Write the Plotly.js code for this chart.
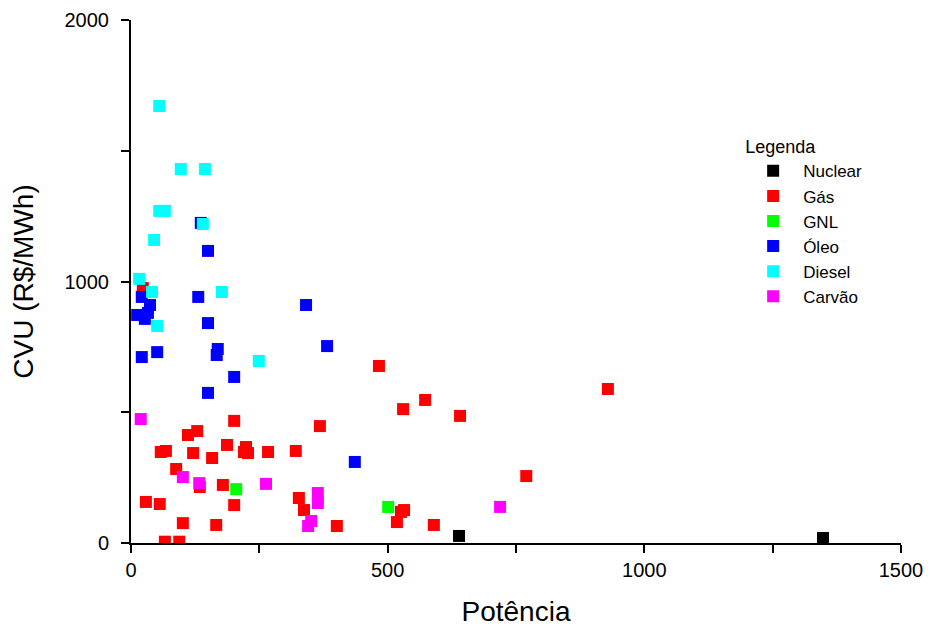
<!DOCTYPE html>
<html>
<head>
<meta charset="utf-8">
<script src="https://cdn.plot.ly/plotly-3.0.1.min.js"></script>
<style>html,body{margin:0;padding:0;background:#fff;}#chart{width:931px;height:627px;}</style>
</head>
<body>
<div id="chart"></div>
<script>
const seriesNames = ["Nuclear", "Gás", "GNL", "Óleo", "Diesel", "Carvão"];
const seriesColors = ["#000000", "#FF0000", "#00FF00", "#0000FF", "#00FFFF", "#FF00FF"];

const nuclearX = [639, 1348];
const nuclearY = [27, 19];

const gasX = [23, 201, 129, 111, 58, 68, 121, 158, 187, 224, 220, 228, 267, 88, 134, 179, 201, 29, 56, 101, 166, 66, 94, 368, 321, 327, 337, 401, 532, 526, 518, 590, 483, 573, 530, 641, 929, 770];
const gasY = [975, 467, 428, 413, 348, 352, 344, 325, 375, 367, 348, 344, 348, 283, 214, 222, 145, 157, 149, 76, 69, 5, 5, 447, 352, 172, 126, 65, 126, 119, 80, 69, 677, 547, 512, 486, 589, 256];

const gnlX = [205, 501];
const gnlY = [206, 138];

const oleoX = [136, 150, 131, 21, 37, 33, 12, 27, 150, 21, 51, 169, 167, 201, 150, 382, 341, 436];
const oleoY = [1224, 1117, 941, 941, 910, 880, 872, 857, 841, 711, 730, 742, 719, 635, 574, 753, 910, 310];

const dieselX = [55, 97, 144, 55, 66, 140, 45, 16, 41, 177, 51, 249];
const dieselY = [1671, 1430, 1430, 1270, 1270, 1220, 1159, 1010, 960, 960, 830, 696];

const carvaoX = [19, 101, 133, 263, 364, 364, 351, 345, 719];
const carvaoY = [474, 252, 229, 226, 191, 153, 84, 65, 138];

const xTickVals = [0, 500, 1000, 1500];
const yTickVals = [0, 1000, 2000];

const allX = [nuclearX, gasX, gnlX, oleoX, dieselX, carvaoX];
const allY = [nuclearY, gasY, gnlY, oleoY, dieselY, carvaoY];

const traces = seriesNames.map((name, i) => ({
  type: "scatter",
  mode: "markers",
  name: name,
  legendgroup: "g" + i,
  x: allX[i],
  y: allY[i],
  marker: {symbol: "square", size: 12, color: seriesColors[i], line: {width: 0}}
}));

const font = "Liberation Sans, Arial, sans-serif";

const layout = {
  width: 931,
  height: 627,
  margin: {l: 131, r: 30, t: 20, b: 84},
  paper_bgcolor: "#ffffff",
  plot_bgcolor: "#ffffff",
  font: {family: font, color: "#000000", size: 17},
  showlegend: true,
  legend: {
    x: 0.795, y: 0.79, xanchor: "left", yanchor: "top",
    title: {text: "Legenda", font: {size: 18, family: font}},
    font: {size: 17, family: font},
    itemwidth: 50,
    tracegroupgap: 0,
    bgcolor: "rgba(0,0,0,0)"
  },
  xaxis: {
    range: [0, 1500],
    showgrid: false,
    zeroline: false,
    showline: true,
    linecolor: "#000000",
    linewidth: 2,
    ticks: "outside",
    ticklen: 8,
    tickwidth: 2,
    tickcolor: "#000000",
    tickmode: "array",
    tickvals: xTickVals,
    ticktext: xTickVals.map(String),
    tickfont: {size: 20, family: font},
    minor: {dtick: 250, tick0: 0, ticks: "outside", ticklen: 8, tickwidth: 2, tickcolor: "#000000", showgrid: false},
    title: {text: "Potência", font: {size: 28, family: font}, standoff: 22}
  },
  yaxis: {
    range: [0, 2000],
    showgrid: false,
    zeroline: false,
    showline: true,
    linecolor: "#000000",
    linewidth: 2,
    ticks: "outside",
    ticklen: 8,
    tickwidth: 2,
    tickcolor: "#000000",
    tickmode: "array",
    tickvals: yTickVals,
    ticktext: yTickVals.map(String),
    tickfont: {size: 20, family: font},
    ticklabelstandoff: 8,
    minor: {dtick: 500, tick0: 0, ticks: "outside", ticklen: 8, tickwidth: 2, tickcolor: "#000000", showgrid: false},
    title: {text: "CVU (R$/MWh)", font: {size: 28, family: font}, standoff: 23}
  }
};

Plotly.newPlot("chart", traces, layout, {displayModeBar: false, staticPlot: true});
</script>
</body>
</html>
